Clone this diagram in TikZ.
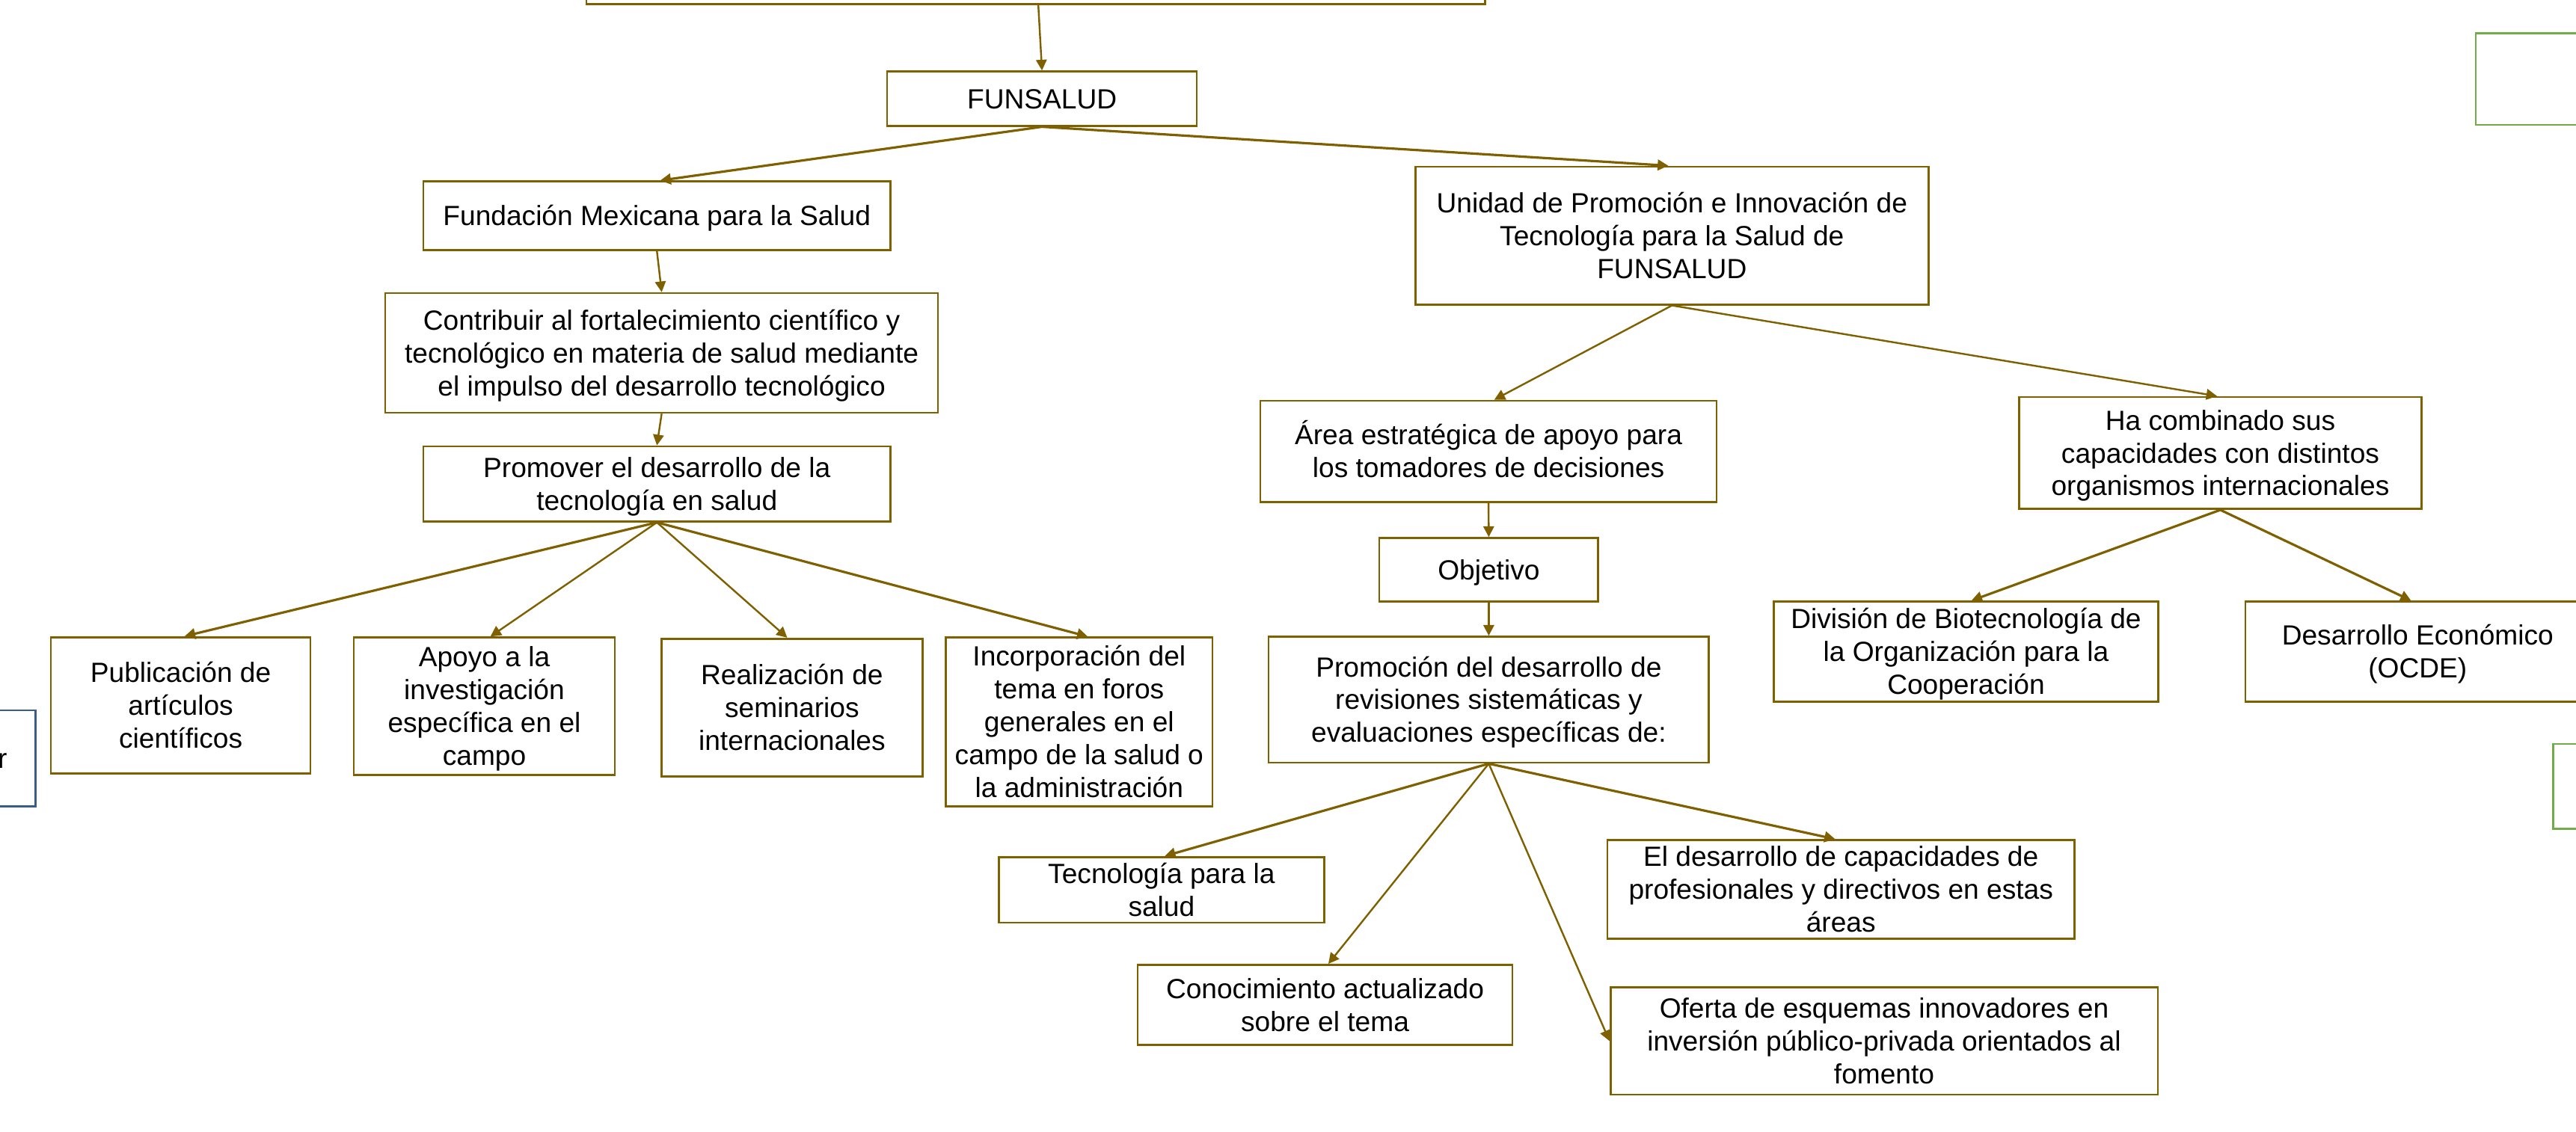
\documentclass[tikz,border=0pt]{standalone}
\usepackage{fontspec}
\setmainfont{Liberation Sans}
\usetikzlibrary{arrows.meta}
\definecolor{brn}{RGB}{127,96,0}
\definecolor{grn}{RGB}{112,173,71}
\definecolor{blu}{RGB}{56,93,138}
\newcommand{\ms}{\rule[-4pt]{0pt}{20pt}}
\begin{document}
\begin{tikzpicture}[x=1pt,y=-1pt,
  brbox/.style={draw=brn,line width=1.2pt,fill=white,inner sep=0pt,align=center,
    font=\fontsize{16.9}{20}\selectfont},
  grbox/.style={draw=grn,line width=1.2pt,inner sep=0pt},
  blbox/.style={draw=blu,line width=1.2pt,inner sep=0pt},
  arrA/.style={draw=brn,line width=1.45pt,-{Triangle[length=6.5pt,width=6.5pt]}},
  arrB/.style={draw=brn,line width=1.1pt,-{Triangle[length=6.5pt,width=6.5pt]}}]
\useasboundingbox (0,0) rectangle (1568,689.3);
\clip (0,0) rectangle (1568,689.3);

% boxes
\node[brbox,minimum width=547pt,minimum height=52.5pt] (top) at (630.5,-23.75) {};
\node[brbox,minimum width=188.5pt,minimum height=33.1pt] (fun) at (634.25,60.05) {\ms FUNSALUD};
\node[brbox,minimum width=284.3pt,minimum height=41.7pt] (fmx) at (399.85,131.35) {\ms Fundación Mexicana para la Salud};
\node[brbox,minimum width=336.5pt,minimum height=72.8pt] (contrib) at (402.75,214.9) {\ms Contribuir al fortalecimiento científico y\\tecnológico en materia de salud mediante\\el impulso del desarrollo tecnológico\ms};
\node[brbox,minimum width=284.3pt,minimum height=45.7pt] (prom) at (399.85,294.65) {\ms Promover el desarrollo de la\\tecnología en salud\ms};
\node[brbox,minimum width=158pt,minimum height=83pt] (pub) at (110,429.5) {\ms Publicación de\\artículos\\científicos\ms};
\node[brbox,minimum width=158.8pt,minimum height=83.7pt] (apoyo) at (294.8,430.05) {\ms Apoyo a la\\investigación\\específica en el\\campo\ms};
\node[brbox,minimum width=158.8pt,minimum height=83.9pt] (real) at (482.1,430.85) {\ms Realización de\\seminarios\\internacionales\ms};
\node[brbox,minimum width=162.2pt,minimum height=102.9pt] (incorp) at (656.9,439.65) {\ms Incorporación del\\tema en foros\\generales en el\\campo de la salud o\\la administración\ms};

\node[brbox,minimum width=312.2pt,minimum height=83.9pt] (unidad) at (1017.7,143.45) {\ms Unidad de Promoción e Innovación de\\Tecnología para la Salud de\\FUNSALUD\ms};
\node[brbox,minimum width=277.7pt,minimum height=61.6pt] (area) at (906.05,274.8) {\ms Área estratégica de apoyo para\\los tomadores de decisiones\ms};
\node[brbox,minimum width=133.2pt,minimum height=38.7pt] (obj) at (906.2,346.95) {\ms Objetivo};
\node[brbox,minimum width=268pt,minimum height=76.7pt] (promo) at (906.2,426.05) {\ms Promoción del desarrollo de\\revisiones sistemáticas y\\evaluaciones específicas de:\ms};
\node[brbox,minimum width=198pt,minimum height=38.7pt] (tec) at (707,541.85) {\ms Tecnología para la\\salud\ms};
\node[brbox,minimum width=228.1pt,minimum height=48.8pt] (conoc) at (806.55,611.9) {\ms Conocimiento actualizado\\sobre el tema\ms};
\node[brbox,minimum width=333.1pt,minimum height=65.2pt] (oferta) at (1146.85,633.9) {\ms Oferta de esquemas innovadores en\\inversión público-privada orientados al\\fomento\ms};
\node[brbox,minimum width=284.3pt,minimum height=59.7pt] (eldes) at (1120.55,541.55) {\ms El desarrollo de capacidades de\\profesionales y directivos en estas\\áreas\ms};
\node[brbox,minimum width=245pt,minimum height=68.1pt] (ha) at (1351.5,275.85) {\ms Ha combinado sus\\capacidades con distintos\\organismos internacionales\ms};
\node[brbox,minimum width=234pt,minimum height=61.1pt] (div) at (1196.7,396.85) {\ms División de Biotecnología de\\la Organización para la\\Cooperación\ms};
\node[brbox,minimum width=209.8pt,minimum height=61.1pt] (deco) at (1471.6,396.85) {\ms Desarrollo Económico\\(OCDE)\ms};

\node[grbox,minimum width=193pt,minimum height=55.6pt] (gr1) at (1603.5,48.2) {};
\node[grbox,minimum width=146pt,minimum height=51.6pt] (gr2) at (1627,478.8) {};
\node[blbox,minimum width=121.7pt,minimum height=58.5pt] (bl) at (-39.15,461.75) {};
\node[anchor=base east,inner sep=0pt,font=\fontsize{16.9}{20}\selectfont] (bltext) at (4.5,468) {r};

% connectors
\draw[arrB] ([xshift=1.5pt]top.south) -- (fun.north);
\draw[arrA] (fun.south) -- ([xshift=2pt]fmx.north);
\draw[arrA] (fun.south) -- ([xshift=-2.2pt]unidad.north);
\draw[arrB] (fmx.south) -- (contrib.north);
\draw[arrB] (contrib.south) -- (prom.north);
\draw[arrA] (prom.south) -- ([xshift=2.4pt]pub.north);
\draw[arrB] (prom.south) -- ([xshift=3.7pt]apoyo.north);
\draw[arrB] (prom.south) -- ([xshift=-2.9pt]real.north);
\draw[arrA] (prom.south) -- ([xshift=5.2pt]incorp.north);
\draw[arrB] (unidad.south) -- ([xshift=3.5pt]area.north);
\draw[arrB] (unidad.south) -- ([xshift=-2pt]ha.north);
\draw[arrB] (area.south) -- (obj.north);
\draw[arrB] (obj.south) -- (promo.north);
\draw[arrA] (promo.south) -- ([xshift=2pt]tec.north);
\draw[arrB] (promo.south) -- ([xshift=2pt]conoc.north);
\draw[arrB] (promo.south) -- (oferta.west);
\draw[arrA] (promo.south) -- ([xshift=-3.5pt]eldes.north);
\draw[arrA] (ha.south) -- ([xshift=3.3pt]div.north);
\draw[arrA] (ha.south) -- ([xshift=-4pt]deco.north);
\end{tikzpicture}
\end{document}
